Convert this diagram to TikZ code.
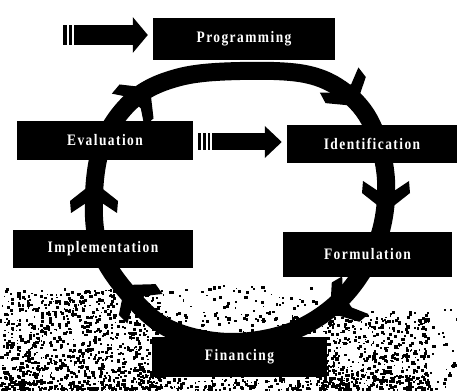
\documentclass[tikz,border=0pt]{standalone}
\usepackage{fontspec}
\newfontfamily\boxfont[LetterSpace=9,FakeStretch=0.84]{Liberation Serif}
\usetikzlibrary{arrows.meta,calc}

\tikzset{
  stage/.style={fill=black, text=white, inner sep=0pt,
    font=\boxfont\bfseries\fontsize{16}{18}\selectfont},
  ring/.style={line width=18pt, line cap=round, line join=round},
  feed/.style={line cap=butt, shorten >=5pt},
  tailgap/.style={white, line width=1.3pt},
  barb/.pic={\fill (0,0) -- (-19,24) -- (-31,23) -- (-21,8) -- (-21,-8)
                -- (-31,-23) -- (-19,-24) -- cycle;},
}

\newcommand{\specks}[5]{% count, x0, width, y0, height
  \foreach \k in {1,...,#1}{
    \pgfmathsetmacro{\sx}{#2+#3*rnd}
    \pgfmathsetmacro{\sy}{#4+#5*rnd^1.5}
    \pgfmathsetmacro{\ss}{1.2+2.3*rnd}
    \fill (\sx,\sy) rectangle ++(\ss,\ss);
  }}

\begin{document}
\begin{tikzpicture}[x=1pt,y=1pt]
\useasboundingbox (0,0) rectangle (457,391);

% grainy background at the foot of the cycle
\pgfmathsetseed{17}
\specks{1050}{0}{160}{0}{100}
\specks{600}{318}{110}{0}{78}
\specks{160}{160}{155}{56}{48}
\specks{180}{150}{180}{0}{16}
\specks{40}{420}{37}{0}{80}

% points along the ring
\coordinate (r01) at (240,320);
\coordinate (r02) at (305,317);
\coordinate (r03) at (345,299);
\coordinate (r04) at (372,266);
\coordinate (r05) at (386,211);
\coordinate (r06) at (378,151);
\coordinate (r07) at (345,96);
\coordinate (r08) at (295,61);
\coordinate (r09) at (232,49);
\coordinate (r10) at (172,61);
\coordinate (r11) at (132,93);
\coordinate (r12) at (100,141);
\coordinate (r13) at (94,196);
\coordinate (r14) at (104,251);
\coordinate (r15) at (135,293);
\coordinate (r16) at (180,314);

\draw[ring] plot[smooth cycle, tension=0.6] coordinates
  {(r01) (r02) (r03) (r04) (r05) (r06) (r07) (r08)
   (r09) (r10) (r11) (r12) (r13) (r14) (r15) (r16)};

% arrowheads running clockwise round the ring
\pic[rotate=-57] at (356,285) {barb};
\pic[rotate=-90] at (386,179) {barb};
\pic[rotate=215] at (330,78) {barb};
\pic[rotate=130] at (125,106) {barb};
\pic[rotate=90]  at (94,209) {barb};
\pic[rotate=45]  at (150,303) {barb};

% stages of the cycle
\node[stage, minimum width=182pt, minimum height=42pt] (prog)  at (244,352)   {Programming};
\node[stage, minimum width=176pt, minimum height=39pt] (eval)  at (105,250.5) {Evaluation};
\node[stage, minimum width=170pt, minimum height=38pt] (ident) at (372,247)   {Identification};
\node[stage, minimum width=180pt, minimum height=38pt] (impl)  at (103,142)   {Implementation};
\node[stage, minimum width=169pt, minimum height=45pt] (form)  at (367.5,136.5) {Formulation};
\node[stage, minimum width=175pt, minimum height=40pt] (fin)   at (239.5,34)  {Financing};

% entry arrows
\coordinate (inA) at (63,356);
\draw[feed, line width=20pt, -{Triangle[length=15pt 0 0, width=35pt 0 0]}]
  (inA) -- (inA -| prog.west);
\foreach \d in {5,10}
  \draw[tailgap] ($(inA)+(\d,-10)$) -- ++(0,20);

\coordinate (inB) at (198,249);
\draw[feed, line width=17pt, -{Triangle[length=17pt 0 0, width=31pt 0 0]}]
  (inB) -- (inB -| ident.west);
\foreach \d in {4,9,13}
  \draw[tailgap] ($(inB)+(\d,-8.5)$) -- ++(0,17);
\end{tikzpicture}
\end{document}
